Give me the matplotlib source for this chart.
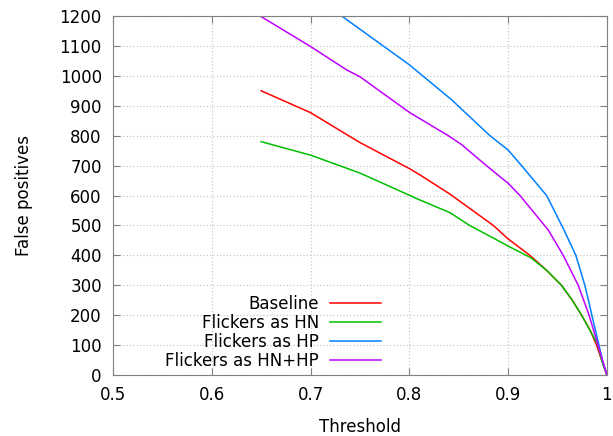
import matplotlib
matplotlib.use("Agg")
import matplotlib.pyplot as plt

# threshold / false positive pairs
base_x = [0.65, 0.70, 0.75, 0.80, 0.8107, 0.841, 0.885, 0.90, 0.922,
          0.939, 0.954, 0.965, 0.9744, 0.983, 0.9896, 0.9947, 1.0]
base_y = [950, 877, 777, 690, 669, 605, 500, 455, 400,
          350, 300, 250, 200, 150, 100, 50, 0]

hn_x = [0.65, 0.70, 0.75, 0.80, 0.8107, 0.841, 0.861, 0.8917, 0.90, 0.923,
        0.939, 0.954, 0.965, 0.9744, 0.9828, 0.991, 0.9947, 1.0]
hn_y = [780, 735, 675, 601, 585, 543, 500, 446, 431, 392,
        350, 300, 250, 200, 150, 100, 50, 0]

hp_x = [0.7315, 0.80, 0.8428, 0.8816, 0.90, 0.9136, 0.939, 0.9558, 0.9686, 0.9777,
        0.981, 0.9848, 0.992, 0.9955, 1.0]
hp_y = [1200, 1037, 920, 800, 752, 700, 600, 490, 400, 300,
        255, 200, 100, 50, 0]

hnhp_x = [0.65, 0.70, 0.7365, 0.75, 0.80, 0.8394, 0.853, 0.878, 0.90, 0.912,
          0.9406, 0.9558, 0.971, 0.982, 0.991, 1.0]
hnhp_y = [1198, 1098, 1020, 997, 878, 800, 770, 700, 641, 600,
          485, 400, 300, 200, 100, 0]

fig = plt.figure(figsize=(6.13, 4.36), dpi=100)
ax = fig.add_axes([0.1843, 0.1399, 0.8057, 0.8234])

ax.plot(base_x, base_y, color="#ff0000", lw=1.1, label="Baseline")
ax.plot(hn_x, hn_y, color="#00c000", lw=1.1, label="Flickers as HN")
ax.plot(hp_x, hp_y, color="#0080ff", lw=1.1, label="Flickers as HP")
ax.plot(hnhp_x, hnhp_y, color="#c000ff", lw=1.1, label="Flickers as HN+HP")

ax.set_xlim(0.5, 1.0)
ax.set_ylim(0, 1200)
ax.set_xticks([0.5, 0.6, 0.7, 0.8, 0.9, 1.0])
ax.set_xticklabels(["0.5", "0.6", "0.7", "0.8", "0.9", "1"])
ax.set_yticks(range(0, 1201, 100))

ax.grid(True, color="#c0c0c0", linestyle=(0, (1, 2)), linewidth=0.8)
for s in ax.spines.values():
    s.set_color("#808080")
ax.tick_params(direction="in", length=5, color="#808080", top=True, right=True,
               labelsize=12, pad=8)

ax.set_xlabel("Threshold", fontsize=12, labelpad=10)
ax.set_ylabel("False positives", fontsize=12, labelpad=19)

ax.legend(loc="lower right", bbox_to_anchor=(381 / 613, (436 - 370) / 436),
          bbox_transform=fig.transFigure, frameon=False, markerfirst=False,
          fontsize=12, handlelength=3.05, handletextpad=0.66, labelspacing=0.07,
          borderpad=0, borderaxespad=0)

fig.savefig("out.png", dpi=100)
